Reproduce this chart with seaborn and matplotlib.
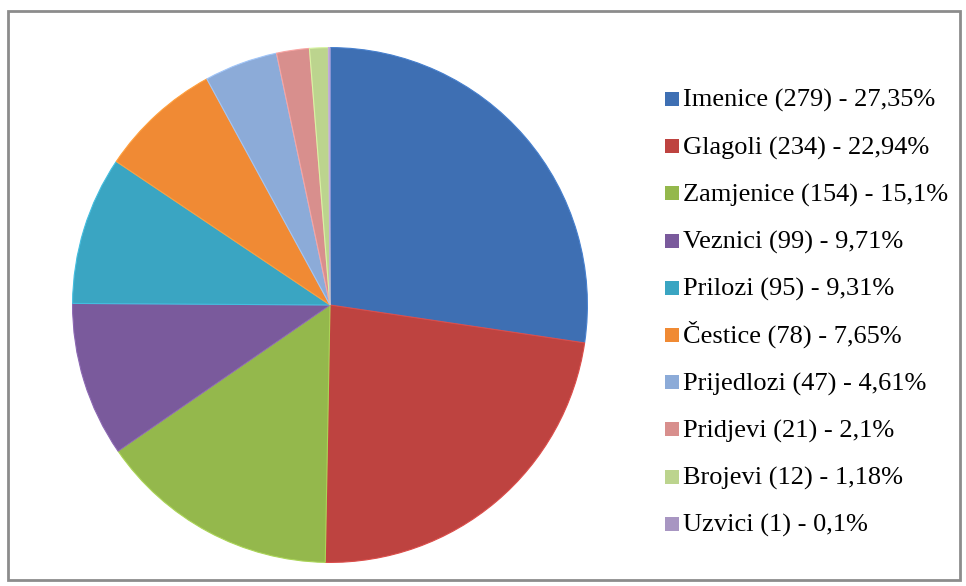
import seaborn as sns
import matplotlib.pyplot as plt
from matplotlib.patches import Rectangle

# podaci - vrste riječi
kategorije = ['Imenice', 'Glagoli', 'Zamjenice', 'Veznici', 'Prilozi',
              'Čestice', 'Prijedlozi', 'Pridjevi', 'Brojevi', 'Uzvici']
broj = [279, 234, 154, 99, 95, 78, 47, 21, 12, 1]
postotci = ['27,35', '22,94', '15,1', '9,71', '9,31',
            '7,65', '4,61', '2,1', '1,18', '0,1']
boje = ['#3e6fb3', '#be4340', '#94b84c', '#7a5a9c', '#3aa5c2',
        '#f08a34', '#8cabd8', '#d88f8d', '#bcd48e', '#a896c2']

sns.set_theme(style='white')
plt.rcParams['font.family'] = ['Liberation Serif', 'DejaVu Serif']

W, H = 966, 586
fig = plt.figure(figsize=(W / 100, H / 100), dpi=100)
fig.patches.append(Rectangle((8 / W, 6 / H), 952 / W, 569 / H,
                             transform=fig.transFigure, fill=False,
                             edgecolor='#8c8c8c', linewidth=2))

ax = fig.add_axes([70 / W, 21 / H, 520 / W, 520 / H])
wedges, _ = ax.pie(broj, colors=boje, startangle=90, counterclock=False,
                   wedgeprops=dict(linewidth=0.8))
for w in wedges:
    w.set_edgecolor(tuple(min(1, c * 1.15) for c in w.get_facecolor()[:3]))
ax.set_xlim(-1.01, 1.01)
ax.set_ylim(-1.01, 1.01)
ax.set_aspect('equal')

# legenda - ručno, da svi redovi imaju isti razmak (Č inače pomiče red)
oznake = [f'{k} ({b}) - {p}%' for k, b, p in zip(kategorije, broj, postotci)]
for i, (txt, w) in enumerate(zip(oznake, wedges)):
    baseline = 107 + 47.2 * i
    fig.patches.append(Rectangle((665 / W, 1 - (baseline - 1) / H), 14 / W, 14 / H,
                                 transform=fig.transFigure,
                                 facecolor=w.get_facecolor(), edgecolor='none'))
    fig.text(683 / W, 1 - baseline / H, txt, fontsize=19, va='baseline',
             ha='left', color='black')

plt.savefig('out.png', dpi=100)
plt.close()
